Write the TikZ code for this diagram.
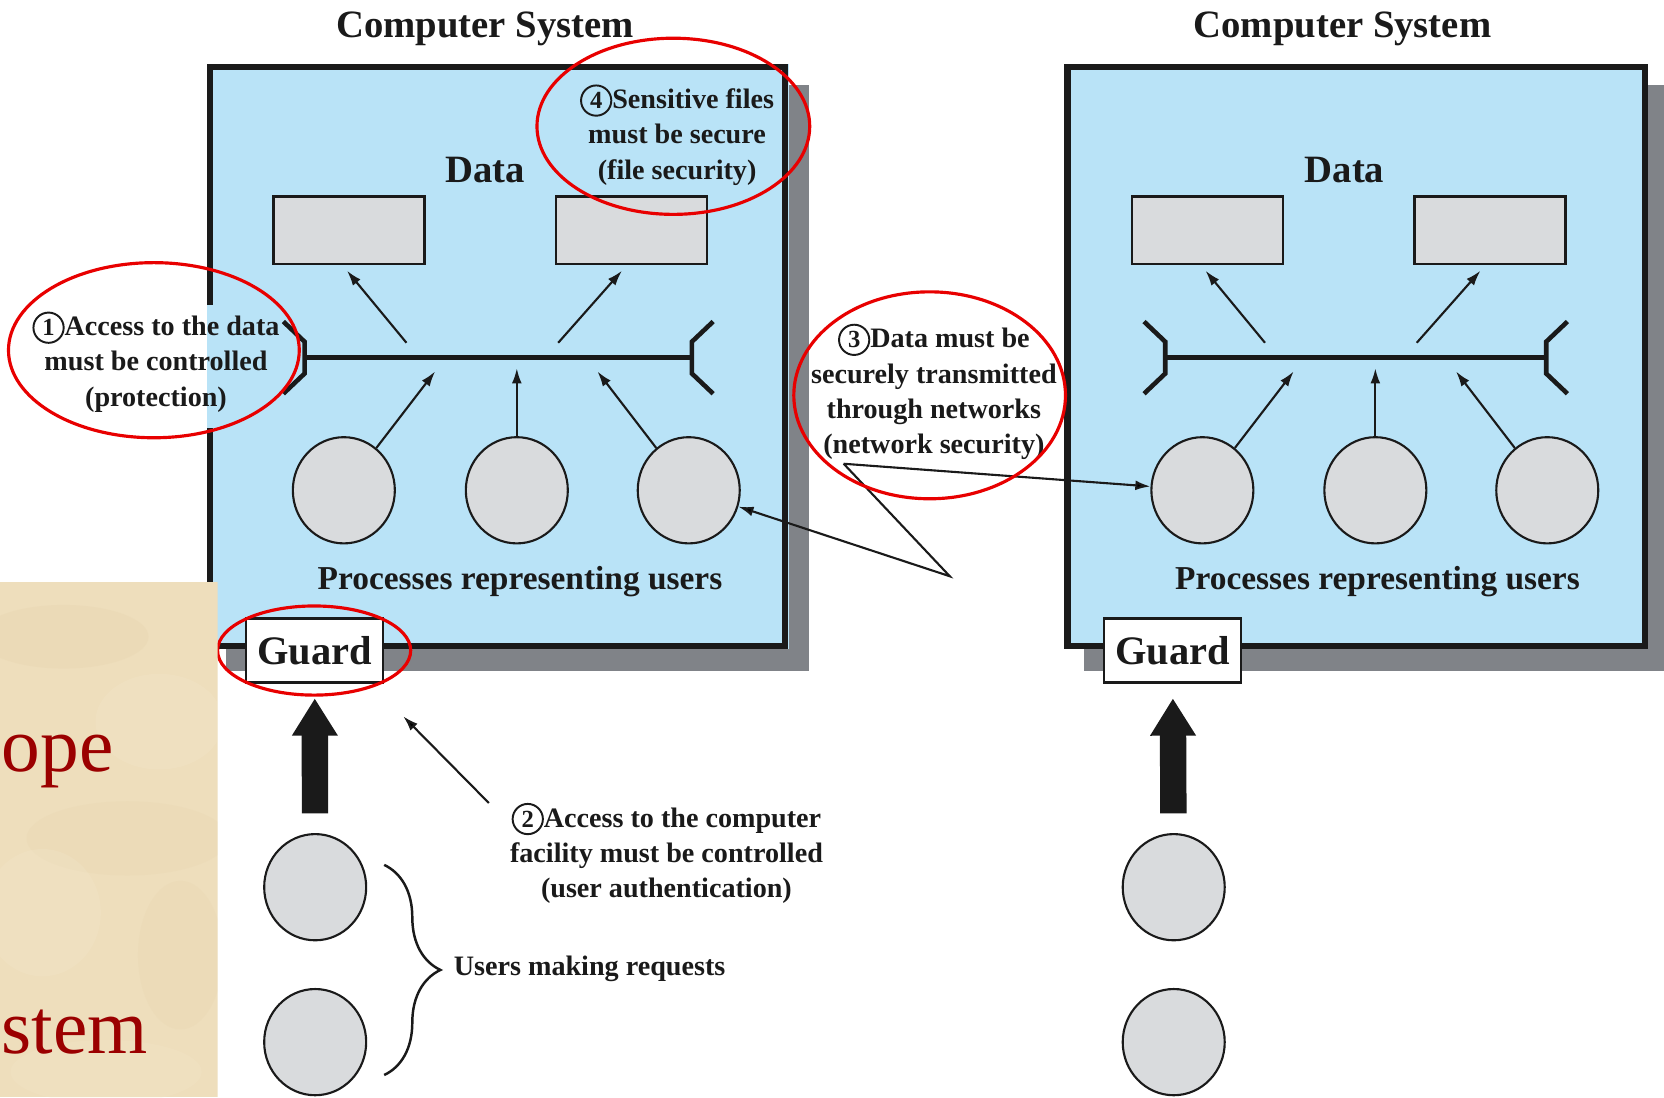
\documentclass[tikz,border=0pt]{standalone}
\usepackage{fontspec}
\setmainfont{Liberation Serif}
\usetikzlibrary{arrows.meta,shapes.geometric,decorations.pathreplacing,calc}

\definecolor{sysblue}{RGB}{185,227,247}
\definecolor{shadowgray}{RGB}{128,131,136}
\definecolor{procgray}{RGB}{217,219,221}
\definecolor{inkblack}{RGB}{26,26,26}
\definecolor{markred}{RGB}{232,0,0}
\definecolor{parchment}{RGB}{238,222,188}
\definecolor{parchdark}{RGB}{225,204,164}
\definecolor{parchlight}{RGB}{245,233,207}
\definecolor{slidered}{RGB}{155,0,0}

% circled step number used inside the annotations
\newcommand{\stepnum}[1]{\tikz[baseline=(cn.base)]\node[circle,draw=inkblack,line width=0.55pt,inner sep=0pt,minimum size=8.6pt,font=\fontsize{7}{7}\selectfont\bfseries](cn){#1};}

\begin{document}
\begin{tikzpicture}[x=0.010612cm,y=-0.010612cm,
  titletext/.style={font=\fontsize{11}{13}\selectfont\bfseries,text=inkblack,inner sep=0pt},
  datalabel/.style={font=\fontsize{11}{13}\selectfont\bfseries,text=inkblack,inner sep=0pt},
  proclabel/.style={font=\fontsize{9.5}{11}\selectfont\bfseries,text=inkblack,inner sep=0pt},
  note/.style={font=\fontsize{8}{10}\selectfont\bfseries,text=inkblack,align=center,inner sep=1pt},
  datanode/.style={rectangle,draw=inkblack,line width=0.7pt,fill=procgray,minimum width=42.9pt,minimum height=19.3pt,inner sep=0pt},
  procnode/.style={ellipse,draw=inkblack,line width=0.6pt,fill=procgray,minimum width=29pt,minimum height=30.2pt,inner sep=0pt},
  guardnode/.style={rectangle,draw=inkblack,line width=0.7pt,fill=white,minimum width=39pt,minimum height=18.1pt,inner sep=0pt,font=\fontsize{11.5}{13}\selectfont\bfseries,text=inkblack},
  boxline/.style={draw=inkblack,line width=1.8pt},
  busline/.style={draw=inkblack,line width=1.5pt},
  bracketline/.style={draw=inkblack,line width=1.3pt,line join=miter},
  thinarrow/.style={draw=inkblack,line width=0.6pt,-{Latex[length=4.3pt,width=2.8pt]}},
  bigarrow/.style={draw=inkblack,line width=7.5pt,-{Triangle[length=10.6pt,width=12.3pt]}},
  redmark/.style={draw=markred,line width=0.9pt},
  bracestyle/.style={draw=inkblack,line width=0.7pt,decorate,decoration={brace,amplitude=16pt}},
  slidetext/.style={anchor=base west,inner sep=0pt,font=\fontsize{22}{22}\selectfont,text=slidered}
]
\useasboundingbox (0,0) rectangle (1568,1034);
\fill[white] (0,0) rectangle (1568,1034);

% ---------- left computer system ----------
\fill[shadowgray] (213,80) rectangle (762,632);
\fill[sysblue] (195,60) rectangle (743,612);
\draw[boxline] (198,287) -- (198,63) -- (740,63) -- (740,609) -- (198,609) -- (198,403);

% ---------- right computer system ----------
\fill[shadowgray] (1021,80) rectangle (1568,632);
\fill[sysblue] (1003,60) rectangle (1553,612);
\draw[boxline] (1006,63) rectangle (1550,609);

\node[titletext] (t1) at (457,27) {Computer System};
\node[titletext] (t2) at (1265,27) {Computer System};

\node[datalabel] (dl1) at (457,160) {Data};
\node[datalabel] (dl2) at (1267,160) {Data};

\node[datanode] (d1) at (329,217) {};
\node[datanode] (d2) at (595,217) {};
\node[datanode] (d3) at (1138,217) {};
\node[datanode] (d4) at (1404,217) {};

% access buses with their end brackets
\coordinate (busAL) at (287,337);
\coordinate (busAR) at (652,337);
\coordinate (busBL) at (1098,337);
\coordinate (busBR) at (1457,337);
\draw[busline] (busAL) -- (busAR);
\draw[busline] (busBL) -- (busBR);
\foreach \e/\s in {busAL/-1,busAR/1,busBL/-1,busBR/1}{
  \draw[bracketline] ($(\e)+(\s*20,-34)$) -- ($(\e)+(0,-15)$) -- ($(\e)+(0,15)$) -- ($(\e)+(\s*20,34)$);
}

% bus to data stores
\coordinate (ua1) at (383,323);
\coordinate (ua2) at (526,323);
\coordinate (ub1) at (1192,323);
\coordinate (ub2) at (1335,323);
\draw[thinarrow] (ua1) -- ($(d1.south)+(-2,5)$);
\draw[thinarrow] (ua2) -- ($(d2.south)+(-9,5)$);
\draw[thinarrow] (ub1) -- ($(d3.south)+(-2,5)$);
\draw[thinarrow] (ub2) -- ($(d4.south)+(-9,5)$);

% processes
\node[procnode] (p1) at (324,462) {};
\node[procnode] (p2) at (487,462) {};
\node[procnode] (p3) at (649,462) {};
\node[procnode] (q1) at (1133,462) {};
\node[procnode] (q2) at (1296,462) {};
\node[procnode] (q3) at (1458,462) {};

\coordinate (va1) at (410,350);
\coordinate (va2) at (487,347);
\coordinate (va3) at (563,350);
\coordinate (vb1) at (1219,350);
\coordinate (vb2) at (1296,347);
\coordinate (vb3) at (1372,350);
\draw[thinarrow] (p1) -- (va1);
\draw[thinarrow] (p2) -- (va2);
\draw[thinarrow] (p3) -- (va3);
\draw[thinarrow] (q1) -- (vb1);
\draw[thinarrow] (q2) -- (vb2);
\draw[thinarrow] (q3) -- (vb3);

\node[proclabel] (pl1) at (490,548) {Processes representing users};
\node[proclabel] (pl2) at (1298,548) {Processes representing users};

% guards
\node[guardnode] (g1) at (296.5,613) {Guard};
\node[guardnode] (g2) at (1105,613) {Guard};

% users making requests
\node[procnode] (us1) at (297,836) {};
\node[procnode] (us2) at (297,982) {};
\node[procnode] (us3) at (1106,836) {};
\node[procnode] (us4) at (1106,982) {};

\draw[bigarrow,shorten <=5.6pt,shorten >=4.2pt] (us1) -- (g1);
\draw[bigarrow,shorten <=5.6pt,shorten >=4.2pt] (us3) -- (g2);

\coordinate (brtop) at (362,815);
\coordinate (brbot) at (362,1013);
\draw[bracestyle] (brtop) -- (brbot);
\node[note,anchor=west,inner sep=0pt] (ureq) at (427,913) {Users making requests};

% ---------- annotations ----------
\node[note] (a1) at (147,341) {\stepnum{1}Access to the data\\must be controlled\\(protection)};
\node[note] (a4) at (638,127) {\stepnum{4}Sensitive files\\must be secure\\(file security)};
\node[note] (a3) at (880,369) {\stepnum{3}Data must be\\securely transmitted\\through networks\\(network security)};
\node[note] (a2) at (628,804) {\stepnum{2}Access to the computer\\facility must be controlled\\(user authentication)};

\coordinate (a2tip) at (380,675);
\draw[thinarrow] ($(a2.north west)+(-16,4)$) -- (a2tip);

\coordinate (c3apex) at (795,437);
\coordinate (c3turn) at (895,543);
\draw[thinarrow] (c3apex) -- (q1);
\draw[thinarrow] (c3apex) -- (c3turn) -- (p3);

% red highlight rings
\draw[redmark] (145,330) ellipse [x radius=137, y radius=82.5];
\draw[redmark] (634.5,119) ellipse [x radius=128.5, y radius=83];
\draw[redmark] (876,372.5) ellipse [x radius=128, y radius=97.5];
\draw[redmark] (296,613) ellipse [x radius=91, y radius=42];

% ---------- parchment slide panel ----------
\begin{scope}
\clip (0,548) rectangle (205,1034);
\fill[parchment] (0,548) rectangle (205,1034);
\fill[parchdark,opacity=0.18] (60,600) ellipse [x radius=80, y radius=30];
\fill[parchlight,opacity=0.25] (150,680) ellipse [x radius=60, y radius=45];
\fill[parchdark,opacity=0.15] (120,790) ellipse [x radius=95, y radius=35];
\fill[parchlight,opacity=0.22] (40,860) ellipse [x radius=55, y radius=60];
\fill[parchdark,opacity=0.15] (170,900) ellipse [x radius=40, y radius=70];
\fill[parchlight,opacity=0.2] (100,1010) ellipse [x radius=90, y radius=30];
\node[slidetext] (sl1) at (1,727) {ope};
\node[slidetext] (sl2) at (1,993) {stem};
\end{scope}
\end{tikzpicture}
\end{document}
